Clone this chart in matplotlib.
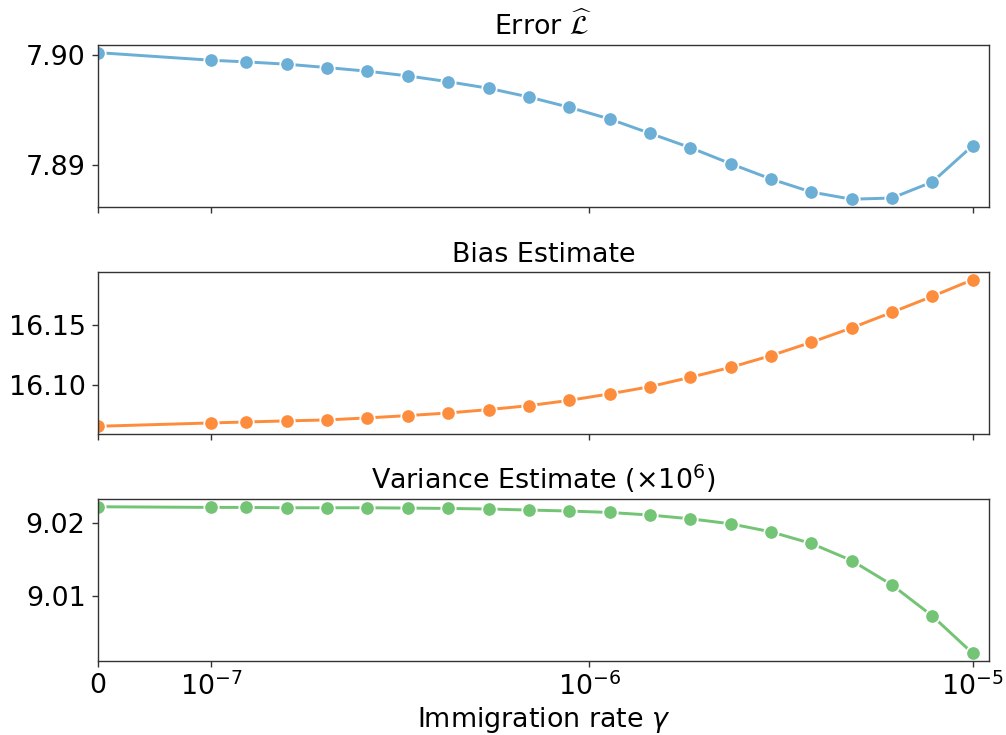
import numpy as np
import matplotlib
matplotlib.use("Agg")
import matplotlib.pyplot as plt

# x values: 0 followed by 20 log-spaced rates
gamma = np.concatenate([[0.0], np.logspace(-7, -5, 20)])

error_vals = [7.90024, 7.89954, 7.89939, 7.89918, 7.89887, 7.89854, 7.89811,
              7.89758, 7.89698, 7.89618, 7.89524, 7.89417, 7.89286, 7.89155,
              7.89008, 7.88868, 7.88749, 7.88683, 7.88694, 7.88841, 7.89173]

bias_vals = [16.0653, 16.0681, 16.0689, 16.0698, 16.0706, 16.0723, 16.0742,
             16.0764, 16.0792, 16.0825, 16.0869, 16.0923, 16.0983, 16.1061,
             16.1144, 16.1242, 16.1353, 16.1473, 16.1603, 16.1736, 16.1875]

var_vals = [9.02224, 9.02215, 9.02215, 9.02210, 9.02210, 9.02210, 9.02206,
            9.02201, 9.02193, 9.02179, 9.02165, 9.02146, 9.02110, 9.02059,
            9.01990, 9.01880, 9.01720, 9.01486, 9.01151, 9.00725, 9.00212]

titles = [r"Error $\widehat{\mathcal{L}}$", "Bias Estimate",
          r"Variance Estimate ($\times 10^6$)"]
colors = ["#6baed6", "#fd8d3c", "#74c476"]
yticks = [[7.89, 7.90], [16.10, 16.15], [9.01, 9.02]]
ytick_labels = [["7.89", "7.90"], ["16.10", "16.15"], ["9.01", "9.02"]]
xticks = [0, 1e-7, 1e-6, 1e-5]
xtick_labels = ["0", r"$10^{-7}$", r"$10^{-6}$", r"$10^{-5}$"]

plt.rcParams["font.size"] = 15.5
plt.rcParams["axes.edgecolor"] = "#333333"
plt.rcParams["xtick.color"] = "#333333"
plt.rcParams["ytick.color"] = "#333333"
plt.rcParams["xtick.labelcolor"] = "black"
plt.rcParams["ytick.labelcolor"] = "black"

fig, axes = plt.subplots(3, 1, figsize=(1006 / 125, 735 / 125), dpi=125, sharex=True)
fig.subplots_adjust(left=0.0971, right=0.9831, top=0.9384, bottom=0.1011, hspace=0.408)

for ax, vals, title, c, yt, ytl in zip(axes, [error_vals, bias_vals, var_vals],
                                       titles, colors, yticks, ytick_labels):
    ax.plot(gamma, vals, color=c, lw=1.7, marker="o", markersize=8.3,
            markeredgecolor="white", markeredgewidth=1.0)
    ax.set_title(title, fontsize=15.5)
    ax.set_yticks(yt)
    ax.set_yticklabels(ytl)
    ax.set_xscale("symlog", linthresh=1.1233e-7, linscale=0.3)

ax = axes[-1]
ax.set_xlim(0, 1.103e-5)
ax.set_xticks(xticks)
ax.set_xticklabels(xtick_labels)
ax.xaxis.set_minor_locator(matplotlib.ticker.NullLocator())
ax.set_xlabel(r"Immigration rate $\gamma$", labelpad=2)

fig.savefig("out.png", dpi=125)
